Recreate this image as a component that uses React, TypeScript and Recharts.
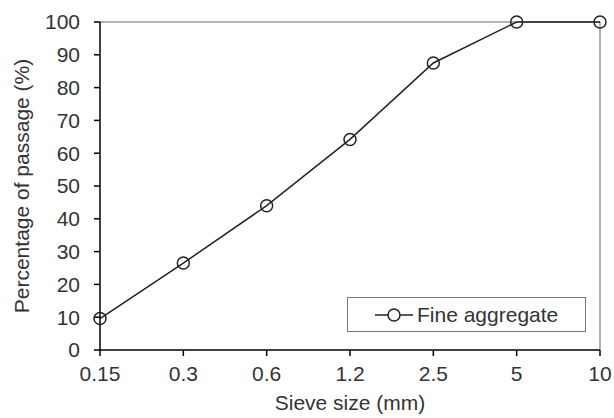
import { LineChart, Line, XAxis, YAxis, ReferenceLine } from "recharts";

const sieveSizes = ["0.15", "0.3", "0.6", "1.2", "2.5", "5", "10"];
const passing = [9.6, 26.5, 44, 64.2, 87.5, 100, 100];
const yTicks = [0, 10, 20, 30, 40, 50, 60, 70, 80, 90, 100];

const data = sieveSizes.map((size, i) => ({ size, passing: passing[i] }));

const font = "'Liberation Sans', Arial, sans-serif";
const textColor = "#333";

function LegendBox() {
  return (
    <div
      style={{
        position: "absolute",
        left: 347,
        top: 297,
        width: 237,
        height: 33,
        border: "1px solid #777",
        background: "#fff",
        display: "flex",
        alignItems: "center",
        fontFamily: font,
        fontSize: 21,
        color: textColor,
      }}
    >
      <svg width={40} height={20} style={{ marginLeft: 27, marginRight: 2 }}>
        <line x1={0} y1={10} x2={38} y2={10} stroke="#222" strokeWidth={1.5} />
        <circle cx={19} cy={10} r={6} fill="#fff" stroke="#222" strokeWidth={1.5} />
      </svg>
      <span>Fine aggregate</span>
    </div>
  );
}

export default function App() {
  return (
    <div style={{ position: "absolute", left: 0, top: 0, width: 614, height: 418 }}>
      <LineChart width={614} height={418} data={data} margin={{ top: 22, right: 14, bottom: 0, left: 0 }}>
        <ReferenceLine y={100} stroke="#999" strokeWidth={1.5} />
        <ReferenceLine x="10" stroke="#999" strokeWidth={1.5} />
        <XAxis
          dataKey="size"
          height={68}
          stroke="#000"
          tickSize={6}
          tickMargin={10}
          tick={{ fill: textColor, fontSize: 21, fontFamily: font }}
          axisLine={{ stroke: "#000", strokeWidth: 1.5 }}
          tickLine={{ stroke: "#000", strokeWidth: 1.5 }}
          label={{
            value: "Sieve size (mm)",
            position: "insideBottom",
            offset: 8,
            fill: textColor,
            fontSize: 21,
            fontFamily: font,
          }}
        />
        <YAxis
          type="number"
          domain={[0, 100]}
          ticks={yTicks}
          width={100}
          interval={0}
          tickSize={6}
          tickMargin={14}
          tick={{ fill: textColor, fontSize: 21, fontFamily: font }}
          axisLine={{ stroke: "#000", strokeWidth: 1.5 }}
          tickLine={{ stroke: "#000", strokeWidth: 1.5 }}
          label={{
            value: "Percentage of passage (%)",
            angle: -90,
            position: "center",
            dx: -28,
            fill: textColor,
            fontSize: 21,
            fontFamily: font,
          }}
        />
        <Line
          dataKey="passing"
          stroke="#222"
          strokeWidth={1.5}
          isAnimationActive={false}
          dot={{ r: 6, fill: "none", stroke: "#222", strokeWidth: 1.5 }}
          activeDot={false}
        />
      </LineChart>
      <LegendBox />
    </div>
  );
}
